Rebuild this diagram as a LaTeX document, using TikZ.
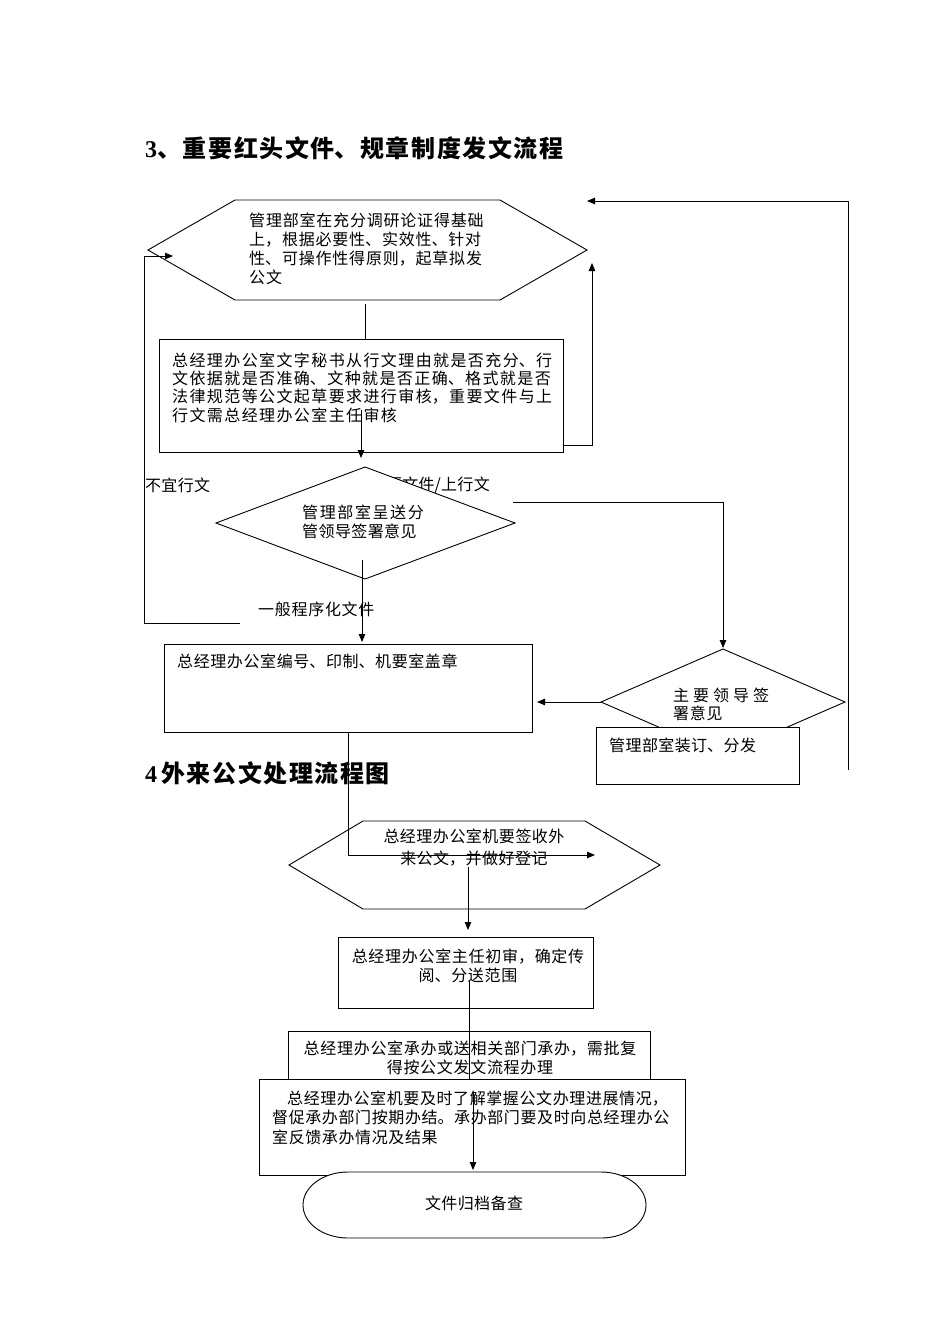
\documentclass[tikz,border=0pt]{standalone}
\usepackage{fontspec}
\setmainfont{Noto Sans CJK SC}
\newfontfamily\latb{Liberation Serif}
\usetikzlibrary{arrows.meta}
\XeTeXlinebreaklocale "zh"
\XeTeXlinebreakskip=0.7pt plus 0pt minus 0pt
\tikzset{
  bx/.style={draw, line width=0.9pt, fill=white},
  ln/.style={line width=0.9pt},
  arr/.style={ln, -{Triangle[length=8pt,width=6.5pt]}},
  txt/.style={inner sep=0pt, font=\fontsize{16}{19}\selectfont, align=left, text width=560pt},
  ctxt/.style={inner sep=0pt, font=\fontsize{16}{19}\selectfont, align=center, text width=500pt},
  ttl/.style={inner sep=0pt, anchor=west, align=left, text width=600pt, font=\fontsize{24}{28}\selectfont\bfseries}
}
\begin{document}
\begin{tikzpicture}[x=1pt,y=-1pt]
\fill[white] (0,0) rectangle (950,1344);
\useasboundingbox (0,0) rectangle (950,1344);

% titles
\node[ttl] (t1) at (145,148) {\XeTeXlinebreakskip=1.6pt {\latb 3}、重要红头文件、规章制度发文流程};
\node[ttl] (t2) at (145,773) {\XeTeXlinebreakskip=1.6pt {\latb 4}\hspace{4pt}外来公文处理流程图};

% ---------- part 3 ----------
% hexagon 1
\draw[bx] (148,250) -- (235,200) -- (500,200) -- (587,250) -- (500,300) -- (235,300) -- cycle;
\node[txt, anchor=west] (h1t) at (249,248.5) {\XeTeXlinebreakskip=0.8pt 管理部室在充分调研论证得基础\\上，根据必要性、实效性、针对\\性、可操作性得原则，起草拟发\\公文};

% box 2
\draw[bx] (159,339) rectangle (563,452);
\node[txt, anchor=west, font=\fontsize{16}{18.3}\selectfont] (b2t) at (172,387.5) {\XeTeXlinebreakskip=1.4pt 总经理办公室文字秘书从行文理由就是否充分、行\\文依据就是否准确、文种就是否正确、格式就是否\\法律规范等公文起草要求进行审核，重要文件与上\\行文需总经理办公室主任审核};

% labels
\node[txt, anchor=west] (l1) at (145,485) {\XeTeXlinebreakskip=0.3pt 不宜行文};
\node[txt, anchor=east, align=right, text width=200pt] (l2) at (490,485) {\XeTeXlinebreakskip=0.3pt 重要文件/上行文};

% diamond 1
\draw[bx] (365,467) -- (515,523) -- (365,579) -- (216,523) -- cycle;
\node[txt, anchor=west] (d1t) at (302,521.5) {{\XeTeXlinebreakskip=1.6pt 管理部室呈送分}\\{\XeTeXlinebreakskip=0.4pt 管领导签署意见}};

\node[txt, anchor=west] (l3) at (258,609) {\XeTeXlinebreakskip=0.7pt 一般程序化文件};

% box 3
\draw[bx] (164,644) rectangle (532,732);
\node[txt, anchor=west] (b3t) at (177,661) {\XeTeXlinebreakskip=0.6pt 总经理办公室编号、印制、机要室盖章};

% diamond 2 and box 7
\draw[bx] (723,649) -- (845,702) -- (723,755) -- (601,702) -- cycle;
\node[txt, anchor=west, font=\fontsize{16}{18}\selectfont] (d2t) at (673,704) {{\XeTeXlinebreakskip=4pt 主要领导签}\\{\XeTeXlinebreakskip=0.7pt 署意见}};
\draw[bx] (596,727) rectangle (799,784);
\node[txt, anchor=west] (b7t) at (609,745) {\XeTeXlinebreakskip=0.4pt 管理部室装订、分发};

% ---------- part 4 ----------
\draw[bx] (289,865) -- (363,821) -- (585,821) -- (660,865) -- (585,909) -- (363,909) -- cycle;
\node[ctxt, font=\fontsize{16}{22}\selectfont] (h2t) at (474,848) {\XeTeXlinebreakskip=0.5pt 总经理办公室机要签收外\\来公文，并做好登记};

\draw[bx] (338,937) rectangle (593,1008);
\node[ctxt, font=\fontsize{16}{18.5}\selectfont] (b4t) at (468,966) {\XeTeXlinebreakskip=0.7pt 总经理办公室主任初审，确定传\\阅、分送范围};

\draw[bx] (288,1031) rectangle (650,1079);
\node[ctxt] (b5t) at (470,1057.5) {\XeTeXlinebreakskip=0.7pt 总经理办公室承办或送相关部门承办，需批复\\得按公文发文流程办理};

\draw[bx] (259,1079) rectangle (685,1175);
\node[txt, anchor=west, font=\fontsize{16}{19.5}\selectfont] (b6t) at (272,1117.5) {\XeTeXlinebreakskip=0.6pt \hspace*{15pt}总经理办公室机要及时了解掌握公文办理进展情况，\\督促承办部门按期办结。承办部门要及时向总经理办公\\室反馈承办情况及结果};

\draw[bx] (348,1172) -- (601,1172) arc[start angle=90,end angle=-90,x radius=45pt,y radius=33pt] -- (348,1238) arc[start angle=270,end angle=90,x radius=45pt,y radius=33pt] -- cycle;
\node[ctxt] (et) at (474,1203) {\XeTeXlinebreakskip=0.4pt 文件归档备查};

% ---------- connector coordinates ----------
\coordinate (h1s) at (365,304);
\coordinate (b2n) at (365,339);
\coordinate (b2r) at (563,445);
\coordinate (k1) at (592,445);
\coordinate (h1e) at (592,263);
\coordinate (s3) at (240,623);
\coordinate (k2) at (144,623);
\coordinate (k3) at (144,256);
\coordinate (h1w) at (173,256);
\coordinate (b2s) at (361,410);
\coordinate (d1n) at (361,458);
\coordinate (d1e) at (513,502);
\coordinate (k4) at (723,502);
\coordinate (d2n) at (723,648);
\coordinate (d1s) at (362,560);
\coordinate (b3n) at (362,642);
\coordinate (d2w) at (601,702);
\coordinate (b3e) at (537,702);
\coordinate (r0) at (848,770);
\coordinate (k5) at (848,201);
\coordinate (h1ne) at (587,201);
\coordinate (b3s) at (348,732);
\coordinate (k6) at (348,855);
\coordinate (h2in) at (595,855);
\coordinate (h2s) at (468,867);
\coordinate (b4n) at (468,930);
\coordinate (b4s) at (469,980);
\coordinate (b6n) at (469,1079);
\coordinate (b6s) at (473,1092);
\coordinate (en) at (473,1170);

% ---------- connectors ----------
\draw[ln] (h1s) -- (b2n);
\draw[arr] (b2r) -- (k1) -- (h1e);
\draw[arr] (s3) -- (k2) -- (k3) -- (h1w);
\draw[arr] (b2s) -- (d1n);
\draw[arr] (d1e) -- (k4) -- (d2n);
\draw[arr] (d1s) -- (b3n);
\draw[arr] (d2w) -- (b3e);
\draw[arr] (r0) -- (k5) -- (h1ne);
\draw[arr] (b3s) -- (k6) -- (h2in);
\draw[arr] (h2s) -- (b4n);
\draw[ln] (b4s) -- (b6n);
\draw[arr] (b6s) -- (en);
\end{tikzpicture}
\end{document}
